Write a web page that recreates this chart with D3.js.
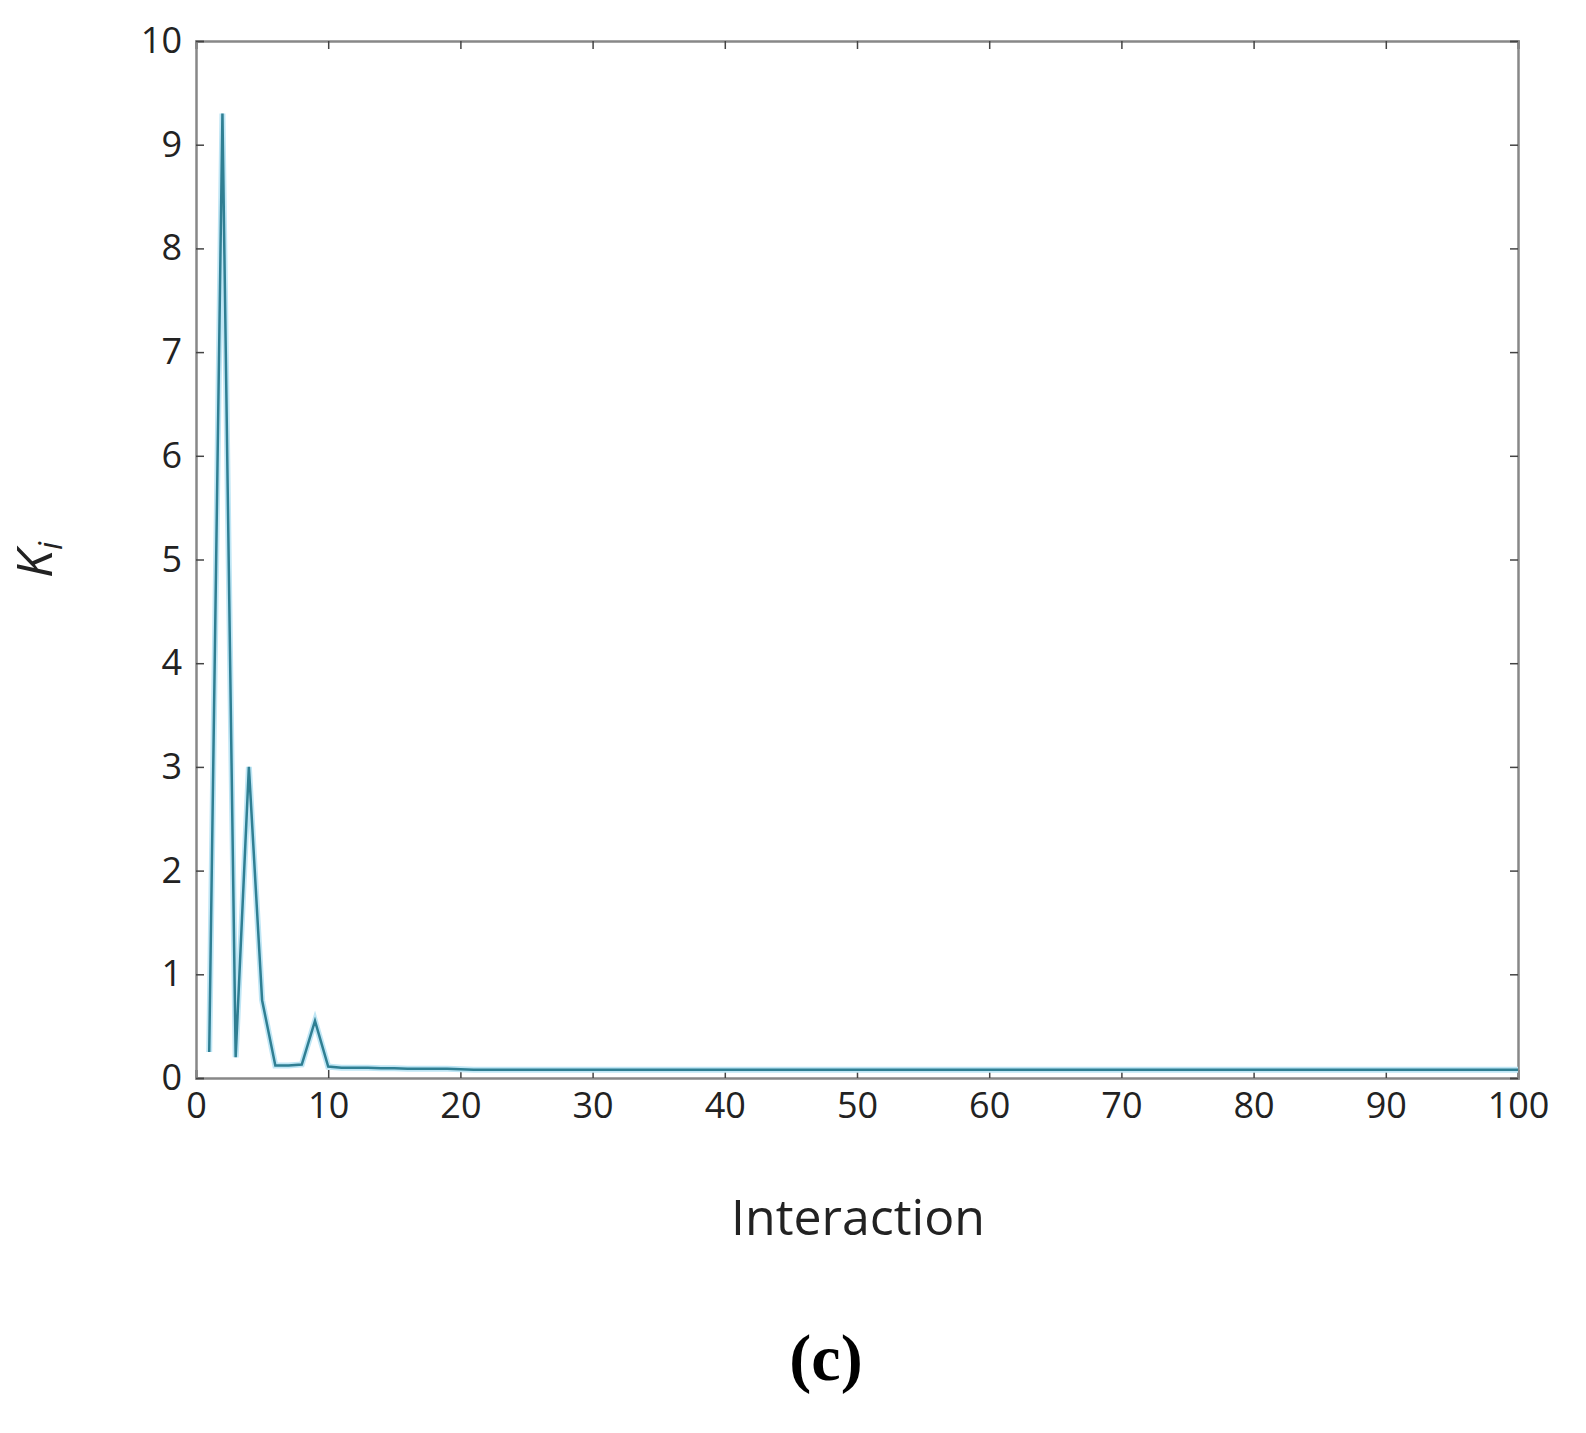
<!DOCTYPE html><html><head><meta charset="utf-8"><script src="https://d3js.org/d3.v7.min.js"></script>
<style>body{margin:0;background:#fff}</style></head><body><script>
const xTicks=[0,10,20,30,40,50,60,70,80,90,100];
const yTicks=[0,1,2,3,4,5,6,7,8,9,10];
const iterations=d3.range(1,101);
const kValues=[0.25,9.3,0.2,3.0,0.75,0.12,0.12,0.13,0.55,0.11,0.1,0.1,0.1,0.095,0.095,0.09,0.09,0.09,0.09,0.085].concat(Array(80).fill(0.08));
const W=1586,H=1433,L=196,R=1518,T=41,B=1078;
const svg=d3.select("body").append("svg").attr("width",W).attr("height",H);
const x=d3.scaleLinear().domain([0,100]).range([L,R]);
const y=d3.scaleLinear().domain([0,10]).range([B,T]);
const f="'Open Sans',sans-serif";
function ax(g,axis){g.call(axis);g.select(".domain").attr("stroke","#888").attr("stroke-width",2.5);g.selectAll(".tick line").attr("stroke","#444").attr("stroke-width",1.5);}
const xb=svg.append("g").attr("transform",`translate(0,${B})`);ax(xb,d3.axisBottom(x).tickValues(xTicks).tickSize(-8).tickPadding(14));
xb.selectAll("text").attr("font-family",f).attr("font-size",36).attr("fill","#222");
const xt=svg.append("g").attr("transform",`translate(0,${T})`);ax(xt,d3.axisTop(x).tickValues(xTicks).tickSize(-8).tickFormat(""));
const yl=svg.append("g").attr("transform",`translate(${L},0)`);ax(yl,d3.axisLeft(y).tickValues(yTicks).tickSize(-8).tickPadding(14));
yl.selectAll("text").attr("font-family",f).attr("font-size",36).attr("fill","#222");
const yr=svg.append("g").attr("transform",`translate(${R},0)`);ax(yr,d3.axisRight(y).tickValues(yTicks).tickSize(-8).tickFormat(""));
const line=d3.line().x((d,i)=>x(iterations[i])).y(d=>y(d));
svg.append("path").datum(kValues).attr("d",line).attr("fill","none").attr("stroke","#bfe6f5").attr("stroke-width",6);
svg.append("path").datum(kValues).attr("d",line).attr("fill","none").attr("stroke","#2f7f93").attr("stroke-width",2.5);
svg.append("text").attr("x",858).attr("y",1235).attr("text-anchor","middle").attr("font-family",f).attr("font-size",50).attr("fill","#222").text("Interaction");
const yt=svg.append("text").attr("transform","translate(52,560) rotate(-90)").attr("text-anchor","middle").attr("font-family",f).attr("font-size",50).attr("font-style","italic").attr("fill","#222");
yt.append("tspan").text("K");yt.append("tspan").attr("font-size",32).attr("dy",10).text("i");
svg.append("text").attr("x",826).attr("y",1380).attr("text-anchor","middle").attr("font-family","'Liberation Serif',serif").attr("font-weight","bold").attr("font-size",66).attr("fill","#000").text("(c)");
</script></body></html>
